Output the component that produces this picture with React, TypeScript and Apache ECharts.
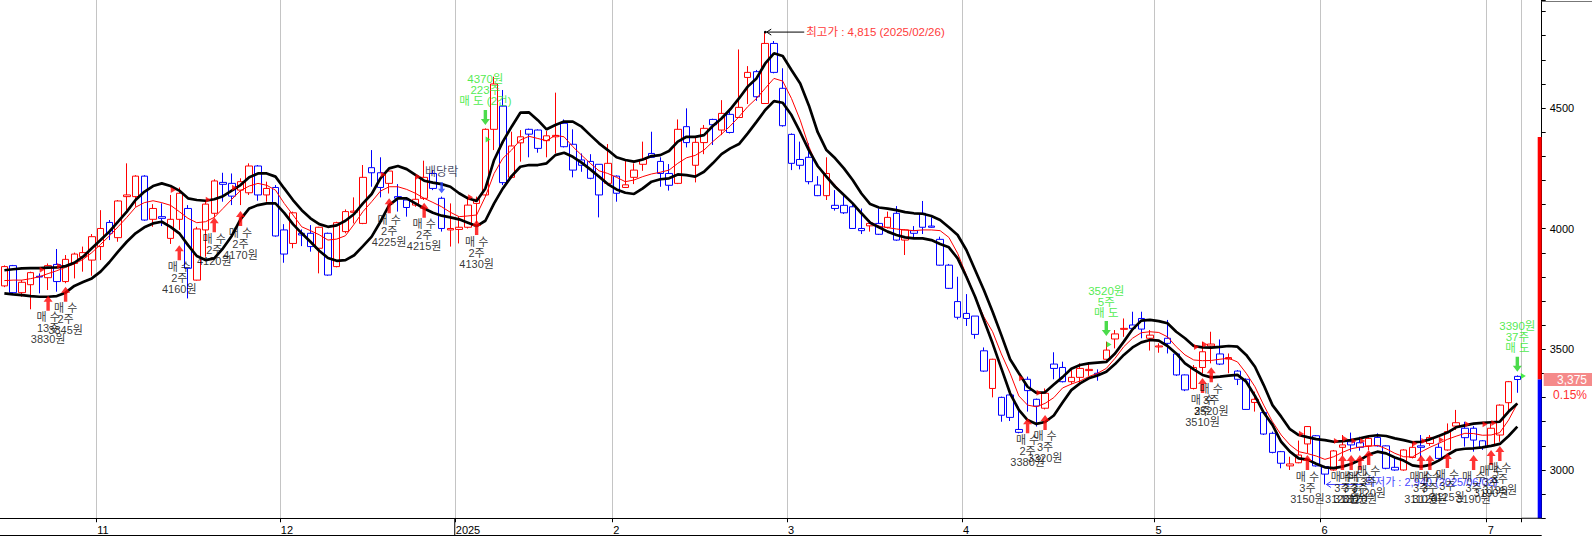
import React, { useEffect, useRef } from 'react';
import * as echarts from 'echarts';

// ---------- data ----------
const monthKeys = ['2024-10', '2024-11', '2024-12', '2025-01', '2025-02', '2025-03', '2025-04', '2025-05', '2025-06', '2025-07'];
const monthDays = [
  [17, 18, 21, 22, 23, 24, 25, 28, 29, 30, 31],
  [1, 4, 5, 6, 7, 8, 11, 12, 13, 14, 15, 18, 19, 20, 21, 22, 25, 26, 27, 28, 29],
  [2, 3, 4, 5, 6, 9, 10, 11, 12, 13, 16, 17, 18, 19, 20, 23, 24, 26, 27, 30],
  [2, 3, 6, 7, 8, 9, 10, 13, 14, 15, 16, 17, 20, 21, 22, 23, 24, 31],
  [3, 4, 5, 6, 7, 10, 11, 12, 13, 14, 17, 18, 19, 20, 21, 24, 25, 26, 27, 28],
  [4, 5, 6, 7, 10, 11, 12, 13, 14, 17, 18, 19, 20, 21, 24, 25, 26, 27, 28, 31],
  [1, 2, 3, 4, 7, 8, 9, 10, 11, 14, 15, 16, 17, 18, 21, 22, 23, 24, 25, 28, 29, 30],
  [2, 7, 8, 9, 12, 13, 14, 15, 16, 19, 20, 21, 22, 23, 26, 27, 28, 29, 30],
  [2, 4, 5, 9, 10, 11, 12, 13, 16, 17, 18, 19, 20, 23, 24, 25, 26, 27, 30],
  [1, 2, 3, 4],
];
const monthLabels = ['', '11', '12', '2025', '2', '3', '4', '5', '6', '7'];
const yearStartMonth = 3;

const opens = [
  3763, 3847, 3735, 3768, 3803, 3797, 3852, 3781, 3856, 3884,
  3870, 3926, 4026, 3963, 4133, 4133, 4218, 4039, 4050, 3960,
  4039, 4084, 3787, 3995, 4064, 4192, 4188, 4160, 4149, 4260,
  4140, 4171, 3995, 3939, 3981, 3981, 3919, 3981, 3843, 3988,
  4068, 4022, 4253, 4232, 4188, 4133, 4119, 4098, 4126, 4229,
  4126, 3995, 3997, 4006, 4105, 4140, 4412, 4508, 4213, 4356,
  4412, 4409, 4365, 4381, 4437, 4350, 4285, 4279, 4267, 4188,
  4218, 4171, 4213, 4267, 4312, 4279, 4229, 4188, 4423, 4263,
  4357, 4453, 4409, 4474, 4461, 4627, 4651, 4519, 4768, 4582,
  4391, 4287, 4296, 4181, 4137, 4097, 4097, 4091, 4001, 4012,
  4022, 4006, 4064, 3953, 3992, 4064, 4011, 3956, 3849, 3698,
  3649, 3638, 3494, 3338, 3301, 3311, 3168, 3376, 3293, 3256,
  3439, 3425, 3366, 3384, 3412, 3401, 3459, 3543, 3583, 3601,
  3628, 3546, 3510, 3546, 3481, 3394, 3338, 3425, 3514, 3481,
  3460, 3410, 3376, 3280, 3238, 3152, 3076, 3017, 3030, 3108,
  3142, 3014, 3000, 3094, 3117, 3113, 3100, 3135, 3100, 3011,
  3000, 3052, 3100, 3110, 3094, 3083, 3182, 3173, 3173, 3121,
  3100, 3145, 3279, 3388,
];
const closes = [
  3843, 3735, 3778, 3818, 3800, 3847, 3781, 3873, 3895, 3901,
  3967, 4001, 3981, 4115, 4140, 4218, 4036, 4084, 4043, 4039,
  4147, 3836, 3999, 4102, 4198, 4184, 4135, 4195, 4260, 4140,
  4167, 3970, 3895, 4066, 3974, 3926, 4006, 3808, 4025, 4071,
  4073, 4213, 4232, 4171, 4239, 4126, 4088, 4122, 4213, 4167,
  4001, 4001, 4006, 4098, 4122, 4412, 4600, 4191, 4343, 4381,
  4392, 4333, 4385, 4387, 4340, 4243, 4263, 4209, 4140, 4271,
  4147, 4182, 4243, 4287, 4296, 4229, 4180, 4412, 4357, 4358,
  4416, 4431, 4478, 4399, 4503, 4648, 4547, 4768, 4648, 4427,
  4271, 4263, 4195, 4137, 4229, 4084, 4066, 4001, 3992, 4022,
  3977, 4047, 3953, 3995, 3981, 4006, 4006, 3849, 3753, 3633,
  3628, 3562, 3410, 3459, 3227, 3218, 3156, 3329, 3265, 3318,
  3421, 3366, 3384, 3421, 3417, 3395, 3497, 3564, 3587, 3587,
  3584, 3559, 3514, 3525, 3394, 3332, 3425, 3490, 3522, 3439,
  3466, 3376, 3251, 3293, 3149, 3073, 3028, 3025, 3062, 3180,
  3017, 2983, 3079, 3104, 3104, 3094, 3131, 3100, 3007, 3000,
  3083, 3094, 3094, 3135, 3048, 3159, 3196, 3134, 3124, 3094,
  3173, 3269, 3366, 3375,
];
const lows = [
  3758, 3730, 3718, 3666, 3732, 3746, 3739, 3774, 3794, 3822,
  3805, 3870, 3953, 3946, 4077, 4091, 4033, 4008, 4011, 3937,
  3995, 3711, 3785, 3884, 4047, 4112, 4098, 4098, 4140, 4116,
  4112, 3967, 3859, 3919, 3928, 3905, 3815, 3805, 3840, 3981,
  4022, 4019, 4174, 4130, 4146, 4071, 4050, 4091, 4119, 4160,
  3988, 3926, 3939, 4001, 4022, 4133, 4326, 4181, 4209, 4278,
  4296, 4315, 4296, 4312, 4337, 4213, 4236, 4205, 4047, 4185,
  4112, 4169, 4185, 4240, 4293, 4174, 4158, 4185, 4337, 4192,
  4309, 4347, 4388, 4395, 4459, 4517, 4530, 4517, 4644, 4423,
  4243, 4246, 4184, 4135, 4119, 4075, 4061, 3999, 3978, 3988,
  3974, 4001, 3950, 3891, 3960, 3978, 4004, 3847, 3750, 3624,
  3597, 3544, 3407, 3301, 3200, 3203, 3152, 3242, 3180, 3251,
  3376, 3363, 3355, 3359, 3390, 3370, 3449, 3504, 3552, 3583,
  3546, 3495, 3486, 3483, 3390, 3327, 3334, 3401, 3442, 3435,
  3401, 3352, 3249, 3242, 3145, 3069, 3007, 3000, 3028, 3069,
  3014, 2940, 2997, 3058, 3076, 3080, 3083, 3097, 3003, 2997,
  2997, 3048, 3052, 3100, 3046, 3080, 3166, 3097, 3076, 3083,
  3097, 3117, 3242, 3320,
];
const highs = [
  3848, 3850, 3787, 3822, 3815, 3856, 3916, 3891, 3901, 3926,
  3978, 4077, 4036, 4119, 4271, 4222, 4222, 4102, 4105, 4140,
  4171, 4098, 4008, 4112, 4205, 4232, 4229, 4209, 4271, 4264,
  4195, 4181, 4019, 4071, 3997, 4015, 4008, 3984, 4029, 4080,
  4130, 4264, 4326, 4296, 4243, 4185, 4122, 4216, 4282, 4243,
  4133, 4105, 4050, 4133, 4133, 4416, 4630, 4575, 4402, 4409,
  4415, 4412, 4406, 4564, 4453, 4412, 4312, 4309, 4267, 4351,
  4221, 4285, 4271, 4361, 4402, 4296, 4268, 4453, 4499, 4381,
  4430, 4456, 4533, 4499, 4743, 4674, 4658, 4815, 4778, 4665,
  4395, 4361, 4354, 4218, 4296, 4160, 4140, 4105, 4084, 4036,
  4084, 4071, 4094, 3997, 4011, 4115, 4047, 3967, 3854, 3801,
  3729, 3638, 3508, 3461, 3304, 3314, 3262, 3387, 3296, 3338,
  3488, 3449, 3414, 3442, 3439, 3417, 3532, 3580, 3628, 3656,
  3656, 3580, 3525, 3622, 3483, 3396, 3435, 3532, 3573, 3541,
  3483, 3414, 3380, 3325, 3240, 3159, 3079, 3055, 3122, 3182,
  3145, 3017, 3083, 3145, 3155, 3138, 3141, 3152, 3102, 3052,
  3086, 3117, 3145, 3145, 3113, 3193, 3249, 3200, 3182, 3124,
  3193, 3272, 3369, 3392,
];
const upperBand = [
  3828, 3832, 3836, 3837, 3837, 3839, 3840, 3845, 3859, 3884,
  3919, 3953, 3988, 4029, 4071, 4119, 4153, 4177, 4188, 4177,
  4158, 4126, 4119, 4116, 4122, 4135, 4158, 4181, 4213, 4229,
  4229, 4216, 4167, 4119, 4077, 4043, 4019, 4008, 4014, 4033,
  4061, 4105, 4144, 4209, 4250, 4260, 4247, 4223, 4199, 4191,
  4185, 4174, 4147, 4126, 4115, 4167, 4285, 4361, 4423, 4481,
  4482, 4450, 4412, 4430, 4444, 4444, 4423, 4388, 4354, 4326,
  4296, 4285, 4278, 4287, 4301, 4305, 4322, 4361, 4381, 4381,
  4388, 4426, 4457, 4495, 4540, 4589, 4623, 4685, 4727, 4716,
  4658, 4602, 4510, 4400, 4326, 4292, 4250, 4202, 4146, 4102,
  4088, 4083, 4077, 4069, 4064, 4062, 4053, 4036, 4006, 3974,
  3912, 3829, 3746, 3656, 3559, 3459, 3401, 3345, 3320, 3322,
  3354, 3385, 3420, 3435, 3442, 3445, 3448, 3483, 3532, 3583,
  3619, 3622, 3617, 3608, 3573, 3546, 3514, 3508, 3507, 3510,
  3514, 3511, 3477, 3428, 3352, 3269, 3221, 3169, 3145, 3136,
  3128, 3124, 3117, 3120, 3124, 3131, 3140, 3144, 3141, 3131,
  3124, 3115, 3117, 3127, 3141, 3155, 3177, 3185, 3192, 3195,
  3198, 3200, 3242, 3276,
];
const lowerBand = [
  3732, 3728, 3725, 3721, 3718, 3718, 3721, 3735, 3763, 3779,
  3794, 3822, 3861, 3905, 3946, 3981, 4006, 4022, 4029, 4008,
  3981, 3932, 3887, 3870, 3877, 3919, 3970, 4039, 4084, 4098,
  4105, 4105, 4066, 4019, 3981, 3946, 3909, 3879, 3867, 3870,
  3890, 3928, 3967, 4029, 4098, 4126, 4126, 4105, 4084, 4066,
  4054, 4047, 4039, 4025, 4011, 4033, 4105, 4167, 4218, 4257,
  4264, 4264, 4271, 4305, 4315, 4298, 4274, 4246, 4216, 4185,
  4163, 4149, 4144, 4167, 4195, 4205, 4209, 4225, 4222, 4216,
  4236, 4271, 4309, 4333, 4351, 4395, 4443, 4492, 4529, 4522,
  4471, 4400, 4325, 4260, 4216, 4174, 4140, 4105, 4064, 4025,
  4006, 3988, 3974, 3964, 3960, 3960, 3953, 3937, 3923, 3877,
  3801, 3718, 3622, 3525, 3421, 3318, 3249, 3207, 3191, 3199,
  3226, 3280, 3331, 3359, 3380, 3392, 3407, 3439, 3477, 3508,
  3529, 3539, 3536, 3514, 3483, 3442, 3417, 3394, 3384, 3387,
  3391, 3394, 3366, 3307, 3238, 3187, 3117, 3076, 3048, 3043,
  3026, 3011, 3008, 3014, 3025, 3041, 3064, 3076, 3069, 3052,
  3039, 3019, 3014, 3021, 3039, 3062, 3083, 3088, 3090, 3094,
  3100, 3108, 3141, 3180,
];
const maLine = [
  3785, 3787, 3787, 3793, 3801, 3814, 3826, 3840, 3854, 3873,
  3901, 3935, 3970, 4008, 4047, 4089, 4108, 4116, 4108, 4097,
  4071, 4043, 4025, 4029, 4047, 4084, 4122, 4158, 4177, 4188,
  4180, 4160, 4105, 4057, 4008, 3992, 3975, 3953, 3957, 3971,
  4019, 4071, 4112, 4156, 4174, 4174, 4163, 4147, 4126, 4109,
  4091, 4068, 4050, 4053, 4057, 4133, 4229, 4292, 4326, 4368,
  4383, 4374, 4365, 4387, 4381, 4340, 4305, 4271, 4240, 4229,
  4213, 4195, 4202, 4216, 4227, 4234, 4243, 4271, 4294, 4304,
  4326, 4361, 4392, 4426, 4464, 4506, 4540, 4582, 4623, 4612,
  4540, 4450, 4340, 4255, 4218, 4181, 4140, 4105, 4066, 4028,
  4011, 4004, 3999, 3995, 3992, 3995, 3995, 3992, 3964, 3898,
  3808, 3718, 3635, 3573, 3481, 3401, 3307, 3269, 3262, 3276,
  3300, 3340, 3356, 3369, 3387, 3401, 3421, 3463, 3511, 3546,
  3569, 3573, 3570, 3552, 3511, 3477, 3456, 3453, 3454, 3459,
  3463, 3448, 3401, 3345, 3269, 3200, 3145, 3104, 3076, 3068,
  3058, 3044, 3055, 3073, 3088, 3095, 3098, 3102, 3088, 3069,
  3055, 3054, 3075, 3094, 3110, 3127, 3140, 3152, 3151, 3144,
  3145, 3155, 3207, 3275,
];

// trade signals
const buyIdx = [5, 7, 20, 24, 27, 44, 48, 54, 117, 119, 137, 138, 149, 153, 154, 155, 156, 162, 163, 165, 168, 170, 171];
const buyArrowTop = [3722, 3760, 3932, 4048, 4073, 4126, 4108, 4036, 3214, 3228, 3381, 3426, 3062, 3062, 3062, 3062, 3083, 3062, 3062, 3070, 3062, 3083, 3099];
const buyQty = [13, 2, 2, 2, 2, 2, 2, 2, 2, 3, 2, 3, 3, 3, 3, 3, 3, 3, 3, 3, 3, 3, 3];
const buyPrice = [3830, 3845, 4160, 4120, 4170, 4225, 4215, 4130, 3380, 3320, 3510, 3520, 3150, 3120, 3130, 3120, 3120, 3110, 3120, 3125, 3190, 3190, 3195];

const sellIdx = [55, 126, 173];
const sellArrowTip = [4430, 3555, 3407];
const sellQty = [223, 5, 37];
const sellPrice = [4370, 3520, 3390];
const sellCount = ['(2건)', '', ''];
const sellMarkIdx = [56, 127, 173];

const exDivIdx = 50;
const exDivArrowTip = 4147;

const highIdx = 87;
const highText = '최고가 : 4,815 (2025/02/26)';
const lowIdx = 151;
const lowText = '최저가 : 2,940 (2025/06/02)';

const barTopPrice = 4380;
const changeText = '0.15%';

// ---------- helpers ----------
const dates: string[] = [];
const labelAt: Record<number, string> = {};
let yearStartIdx = 0;
monthKeys.forEach((m, k) => {
  if (k > 0) labelAt[dates.length] = monthLabels[k];
  if (k === yearStartMonth) yearStartIdx = dates.length;
  monthDays[k].forEach((d) => dates.push(`${m}-${String(d).padStart(2, '0')}`));
});
const boundaryDates = [...dates, ''];
const isMonthStart = (i: number) => labelAt[i] !== undefined;

const FONT = '"Liberation Sans", "Noto Sans CJK KR", sans-serif';
const upArrow = 'path://M4.5,0 L9,6 L6.2,6 L6.2,15 L2.8,15 L2.8,6 L0,6 Z';
const downArrow = 'path://M2.8,0 L6.2,0 L6.2,9 L9,9 L4.5,15 L0,9 L2.8,9 Z';

export default function App() {
  const ref = useRef<HTMLDivElement>(null);

  useEffect(() => {
    document.body.style.margin = '0';
    const chart = echarts.init(ref.current as HTMLDivElement, null, { renderer: 'svg' });
    const candleData = opens.map((o, i) => [o, closes[i], lows[i], highs[i]]);

    chart.setOption({
      animation: false,
      backgroundColor: '#ffffff',
      grid: { left: -2, top: 0, width: 1523.7, height: 518.25 },
      xAxis: [
        {
          type: 'category',
          data: dates,
          boundaryGap: true,
          axisLine: { show: true, onZero: false, lineStyle: { color: '#000', width: 1 } },
          axisTick: { show: true, interval: (i: number) => isMonthStart(i), length: 4, lineStyle: { color: '#000' } },
          axisLabel: { show: false },
          splitLine: { show: true, interval: (i: number) => isMonthStart(i), lineStyle: { color: '#c4c4c4', width: 1 } },
        },
        {
          // boundary-aligned axis used only for the month labels
          type: 'category',
          data: boundaryDates,
          boundaryGap: false,
          position: 'bottom',
          axisLine: { show: false, onZero: false },
          axisTick: { show: false },
          splitLine: { show: false },
          axisLabel: {
            interval: (i: number) => isMonthStart(i),
            formatter: (_v: string, i: number) => labelAt[i] || '',
            align: 'left',
            color: '#000',
            fontSize: 11,
            fontFamily: FONT,
            margin: 6,
            padding: [0, 0, 0, 1],
          },
        },
      ],
      yAxis: {
        type: 'value',
        position: 'right',
        offset: 20,
        min: 2800,
        max: 4948,
        interval: 100,
        axisLine: { show: true, lineStyle: { color: '#000' } },
        axisTick: { show: true, length: 4, lineStyle: { color: '#000' } },
        axisLabel: {
          color: '#000',
          fontSize: 11,
          fontFamily: FONT,
          margin: 8,
          formatter: (v: number) => (Math.round(v) % 500 === 0 ? String(v) : ''),
        },
        splitLine: { show: false },
      },
      series: [
        {
          type: 'candlestick',
          data: candleData,
          barWidth: 7,
          itemStyle: {
            color: '#ffffff',
            color0: '#ffffff',
            borderColor: '#ff0000',
            borderColor0: '#0000ff',
            borderWidth: 1,
          },
          z: 2,
          silent: true,
        },
        {
          type: 'line',
          data: maLine,
          symbol: 'none',
          lineStyle: { color: '#ff0000', width: 1 },
          z: 3,
          silent: true,
        },
        {
          type: 'line',
          data: upperBand,
          symbol: 'none',
          lineStyle: { color: '#000000', width: 2.7 },
          z: 4,
          silent: true,
        },
        {
          type: 'line',
          data: lowerBand,
          symbol: 'none',
          lineStyle: { color: '#000000', width: 2.7 },
          z: 4,
          silent: true,
        },
        {
          // buy execution marks
          type: 'scatter',
          data: buyIdx.map((d, k) => [d, buyPrice[k]]),
          symbol: 'triangle',
          symbolRotate: -90,
          symbolSize: [6, 5],
          symbolOffset: [-6, 0],
          itemStyle: { color: '#ff0000' },
          z: 5,
          silent: true,
        },
        {
          // sell execution marks
          type: 'scatter',
          data: sellMarkIdx.map((d, k) => ({
            value: [d, sellPrice[k]],
            symbolOffset: k === sellMarkIdx.length - 1 ? [6, 0] : [-6, 0],
          })),
          symbol: 'triangle',
          symbolRotate: -90,
          symbolSize: [6, 5],
          itemStyle: { color: '#1ee61e' },
          z: 5,
          silent: true,
        },
        {
          // buy arrows
          type: 'scatter',
          data: buyIdx.map((d, k) => [d, buyArrowTop[k]]),
          symbol: upArrow,
          symbolSize: [9, 15],
          symbolOffset: [0, 7.5],
          itemStyle: { color: '#ff0000' },
          label: {
            show: true,
            position: 'bottom',
            distance: 1,
            color: '#000',
            fontSize: 11,
            lineHeight: 11,
            fontFamily: FONT,
            formatter: (p: any) => `매 수\n${buyQty[p.dataIndex]}주\n${buyPrice[p.dataIndex]}원`,
          },
          z: 6,
          silent: true,
        },
        {
          // sell arrows
          type: 'scatter',
          data: sellIdx.map((d, k) => [d, sellArrowTip[k]]),
          symbol: downArrow,
          symbolSize: [9, 15],
          symbolOffset: [0, -7.5],
          itemStyle: { color: '#1ed21e' },
          label: {
            show: true,
            position: 'top',
            distance: 3,
            color: '#1ee61e',
            fontSize: 11.5,
            lineHeight: 11,
            fontFamily: FONT,
            formatter: (p: any) =>
              `${sellPrice[p.dataIndex]}원\n${sellQty[p.dataIndex]}주\n매 도${sellCount[p.dataIndex] ? ' ' + sellCount[p.dataIndex] : ''}`,
          },
          z: 6,
          silent: true,
        },
        {
          // ex-dividend
          type: 'scatter',
          data: [[exDivIdx, exDivArrowTip]],
          symbol: downArrow,
          symbolSize: [7, 11],
          symbolOffset: [0, -5.5],
          itemStyle: { color: '#1f3cff' },
          label: {
            show: true,
            position: 'top',
            distance: 4,
            color: '#222244',
            fontSize: 12,
            fontFamily: FONT,
            formatter: '배당락',
          },
          z: 6,
          silent: true,
        },
      ],
    });

    const px = (i: number, v: number) => chart.convertToPixel({ xAxisIndex: 0, yAxisIndex: 0 }, [i, v]) as number[];
    const [hx, hy] = px(highIdx, highs[highIdx]);
    const [lx, ly] = px(lowIdx, lows[lowIdx]);
    const lastClose = closes[closes.length - 1];
    const [, cy] = px(closes.length - 1, lastClose);
    const [, topY] = px(0, barTopPrice);
    const [, botY] = px(0, 2800);
    const gridEnd = chart.convertToPixel({ xAxisIndex: 1 }, dates.length) as number;
    const yearX = chart.convertToPixel({ xAxisIndex: 1 }, yearStartIdx) as number;
    const axisX = gridEnd + 20;

    chart.setOption({
      graphic: [
        // high annotation
        { type: 'circle', shape: { cx: hx, cy: hy, r: 1.3 }, style: { fill: '#000' }, z: 20, silent: true },
        { type: 'line', shape: { x1: hx + 1, y1: hy, x2: hx + 39, y2: hy }, style: { stroke: '#000', lineWidth: 1 }, z: 20, silent: true },
        { type: 'polyline', shape: { points: [[hx + 6, hy - 3], [hx + 1.5, hy], [hx + 6, hy + 3]] }, style: { stroke: '#000', lineWidth: 1, fill: null }, z: 20, silent: true },
        {
          type: 'text', x: hx + 41, y: hy, z: 20, silent: true,
          style: { text: highText, fill: '#ff3b3b', font: `11.5px ${FONT}`, verticalAlign: 'middle', align: 'left' },
        },
        // low annotation
        { type: 'line', shape: { x1: lx + 1, y1: ly, x2: lx + 38, y2: ly }, style: { stroke: '#4040ff', lineWidth: 1 }, z: 4, silent: true },
        { type: 'polyline', shape: { points: [[lx + 6, ly - 3], [lx + 1.5, ly], [lx + 6, ly + 3]] }, style: { stroke: '#4040ff', lineWidth: 1, fill: null }, z: 4, silent: true },
        {
          type: 'text', x: lx + 40, y: ly - 2, z: 4, silent: true,
          style: { text: lowText, fill: '#4646ff', font: `11px ${FONT}`, verticalAlign: 'middle', align: 'left' },
        },
        // right price bar
        { type: 'rect', shape: { x: axisX - 4, y: topY, width: 4, height: cy - topY }, style: { fill: '#ff0000' }, z: 10, silent: true },
        { type: 'rect', shape: { x: axisX - 4, y: cy, width: 4, height: botY - cy }, style: { fill: '#0000ff' }, z: 10, silent: true },
        // price tag
        { type: 'rect', shape: { x: axisX + 2, y: cy - 6.5, width: 1592 - axisX - 2, height: 13 }, style: { fill: '#f58a8a' }, z: 10, silent: true },
        {
          type: 'text', x: 1587, y: cy, z: 11, silent: true,
          style: { text: lastClose.toLocaleString('en-US'), fill: '#ffffff', font: `12px ${FONT}`, align: 'right', verticalAlign: 'middle' },
        },
        {
          type: 'text', x: 1587, y: cy + 15, z: 11, silent: true,
          style: { text: changeText, fill: '#ff3030', font: `12px ${FONT}`, align: 'right', verticalAlign: 'middle' },
        },
        // frame pieces
        { type: 'line', shape: { x1: axisX, y1: 1.5, x2: 1592, y2: 1.5 }, style: { stroke: '#777', lineWidth: 1 }, z: 10, silent: true },
        { type: 'line', shape: { x1: gridEnd, y1: botY, x2: axisX, y2: botY }, style: { stroke: '#000', lineWidth: 1 }, z: 10, silent: true },
        { type: 'line', shape: { x1: 0, y1: 535.5, x2: axisX, y2: 535.5 }, style: { stroke: '#000', lineWidth: 1 }, z: 10, silent: true },
        { type: 'line', shape: { x1: yearX, y1: botY, x2: yearX, y2: 535.5 }, style: { stroke: '#000', lineWidth: 1 }, z: 10, silent: true },
      ],
    });

    return () => chart.dispose();
  }, []);

  return (
    <div
      ref={ref}
      style={{ position: 'absolute', left: 0, top: 0, width: 1592, height: 537, background: '#ffffff' }}
    />
  );
}
